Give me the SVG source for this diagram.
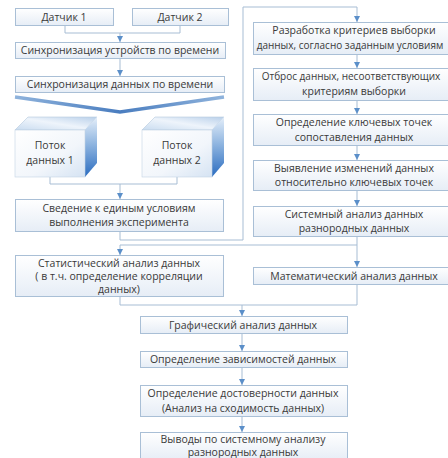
<svg xmlns="http://www.w3.org/2000/svg" width="448" height="458" viewBox="0 0 448 458">
<defs>
<linearGradient id="boxg" x1="0" y1="0" x2="0" y2="1"><stop offset="0" stop-color="#ffffff"/><stop offset="1" stop-color="#e6edf6"/></linearGradient>
<linearGradient id="frontg" x1="0" y1="0" x2="1" y2="1"><stop offset="0" stop-color="#ffffff"/><stop offset="0.6" stop-color="#f2f6fb"/><stop offset="1" stop-color="#d5e3f3"/></linearGradient>
<linearGradient id="topg" x1="0" y1="1" x2="1" y2="0"><stop offset="0" stop-color="#c9dcf0"/><stop offset="0.5" stop-color="#eef4fb"/><stop offset="1" stop-color="#b9d0ea"/></linearGradient>
<linearGradient id="sideg" x1="0" y1="0" x2="0" y2="1"><stop offset="0" stop-color="#e4eef9"/><stop offset="0.45" stop-color="#8fb5e0"/><stop offset="1" stop-color="#2a6cc0"/></linearGradient>
<linearGradient id="chev" x1="0" y1="0" x2="1" y2="0"><stop offset="0" stop-color="#8fb3dc"/><stop offset="0.5" stop-color="#4a7dbf"/><stop offset="1" stop-color="#8fb3dc"/></linearGradient>
<marker id="ah" viewBox="0 0 6 6" refX="6" refY="3" markerWidth="6" markerHeight="6" markerUnits="userSpaceOnUse" orient="auto"><path d="M0,0 L6,3 L0,6 z" fill="#5b8fc9"/></marker>
</defs>
<style>
.box{fill:url(#boxg);stroke:#a9bfd6;stroke-width:1}
.t{font-family:"Open Sans","Noto Sans",sans-serif;font-size:10.5px;fill:#3a3a3a;text-anchor:middle}
.s{font-size:10px}
.c{fill:none;stroke:#a7bdd4;stroke-width:1}
.a{fill:none;stroke:#a7bdd4;stroke-width:1;marker-end:url(#ah)}
</style>
<rect width="448" height="458" fill="#ffffff"/>
<g id="connectors">
<path class="c" d="M65 25 V33 H180 V25"/>
<path class="a" d="M120 33 V42"/>
<path class="a" d="M120 58 V76"/>
<path class="c" d="M50 177 V184 H177 V177"/>
<path class="a" d="M120 184 V199"/>
<path class="a" d="M120 231 V240 H243 V7 H357 V22"/>
<path class="a" d="M357 54 V68"/>
<path class="a" d="M357 100 V114"/>
<path class="a" d="M357 145 V160"/>
<path class="a" d="M357 190 V206"/>
<path class="a" d="M357 236 V267"/>
<path class="a" d="M357 245 H120 V255"/>
<path class="c" d="M120 296 V305 H357 V284"/>
<path class="a" d="M242 305 V316"/>
<path class="a" d="M242 333 V351"/>
<path class="a" d="M242 367 V385"/>
<path class="a" d="M242 416 V432"/>
</g>
<g id="sensor1"><rect class="box" x="15.5" y="8.5" width="98" height="17"/><text class="t" x="64" y="20.5">Датчик 1</text></g>
<g id="sensor2"><rect class="box" x="132.5" y="8.5" width="96" height="17"/><text class="t" x="180" y="20.5">Датчик 2</text></g>
<g id="syncDevices"><rect class="box" x="15.5" y="42.5" width="210" height="16"/><text class="t" x="120" y="54">Синхронизация устройств по времени</text></g>
<g id="syncData"><rect class="box" x="15.5" y="76.5" width="209" height="16"/><text class="t" x="120" y="88">Синхронизация данных по времени</text></g>
<g id="split"><path d="M15 97 L120 112 L224 97" fill="none" stroke="url(#chev)" stroke-width="3.5" stroke-linejoin="miter"/></g>
<g id="stream1">
<polygon points="15,130 28,117 97,117 85,130" fill="url(#topg)" stroke="#b5c9de" stroke-width="0.6"/>
<polygon points="85,130 97,117 97,163 85,177" fill="url(#sideg)"/>
<rect x="15" y="130" width="70" height="47" fill="url(#frontg)" stroke="#c3d3e4" stroke-width="0.6"/>
<text class="t" x="50" y="149">Поток</text><text class="t" x="50" y="164">данных 1</text>
</g>
<g id="stream2">
<polygon points="142,130 155,117 224,117 212,130" fill="url(#topg)" stroke="#b5c9de" stroke-width="0.6"/>
<polygon points="212,130 224,117 224,163 212,177" fill="url(#sideg)"/>
<rect x="142" y="130" width="70" height="47" fill="url(#frontg)" stroke="#c3d3e4" stroke-width="0.6"/>
<text class="t" x="177" y="149">Поток</text><text class="t" x="177" y="164">данных 2</text>
</g>
<g id="unify"><rect class="box" x="15.5" y="199.5" width="208" height="32"/><text class="t" x="119" y="212">Сведение к единым условиям</text><text class="t" x="119" y="226">выполнения эксперимента</text></g>
<g id="stat"><rect class="box" x="15.5" y="255.5" width="208" height="41"/><text class="t" x="119" y="267">Статистический анализ данных</text><text class="t" x="119" y="280">( в т.ч. определение корреляции</text><text class="t" x="119" y="293">данных)</text></g>
<g id="criteria"><rect class="box" x="253.5" y="22.5" width="196" height="32"/><text class="t" x="354" y="34">Разработка критериев выборки</text><text class="t s" x="350" y="49">данных, согласно заданным условиям</text></g>
<g id="discard"><rect class="box" x="253.5" y="68.5" width="196" height="32"/><text class="t s" x="351" y="80">Отброс данных, несоответствующих</text><text class="t" x="354" y="95">критериям выборки</text></g>
<g id="keypoints"><rect class="box" x="253.5" y="114.5" width="196" height="31"/><text class="t" x="354" y="126">Определение ключевых точек</text><text class="t" x="354" y="141">сопоставления данных</text></g>
<g id="changes"><rect class="box" x="253.5" y="160.5" width="196" height="30"/><text class="t" x="354" y="172">Выявление изменений данных</text><text class="t" x="354" y="186">относительно ключевых точек</text></g>
<g id="system"><rect class="box" x="253.5" y="206.5" width="196" height="30"/><text class="t" x="354" y="218">Системный анализ данных</text><text class="t" x="354" y="232">разнородных данных</text></g>
<g id="math"><rect class="box" x="253.5" y="267.5" width="196" height="17"/><text class="t" x="354" y="280">Математический анализ данных</text></g>
<g id="graph"><rect class="box" x="140.5" y="316.5" width="207" height="17"/><text class="t" x="243" y="329">Графический анализ данных</text></g>
<g id="depend"><rect class="box" x="140.5" y="351.5" width="207" height="16"/><text class="t" x="243" y="363">Определение зависимостей данных</text></g>
<g id="reliab"><rect class="box" x="140.5" y="385.5" width="207" height="31"/><text class="t" x="243" y="397">Определение достоверности данных</text><text class="t" x="243" y="412">(Анализ на сходимость данных)</text></g>
<g id="conclusions"><rect class="box" x="140.5" y="432.5" width="207" height="28"/><text class="t" x="243" y="443">Выводы по системному анализу</text><text class="t" x="243" y="456">разнородных данных</text></g>
</svg>
